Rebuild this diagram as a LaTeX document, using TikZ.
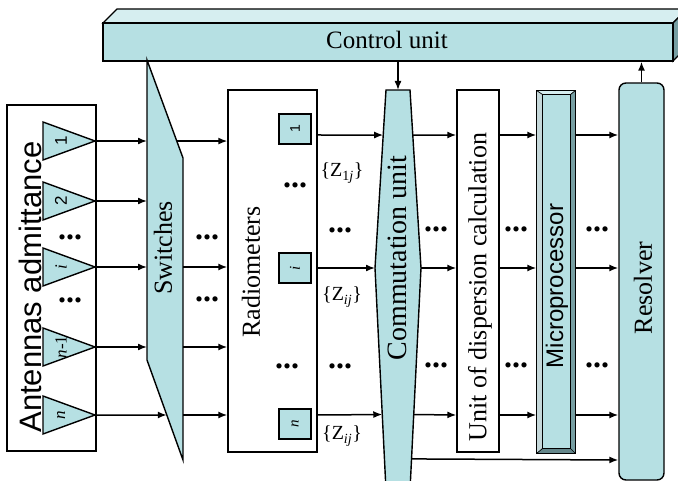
\documentclass[tikz,border=0pt]{standalone}
\usepackage{fontspec}
\setmainfont{Liberation Serif}
\newfontfamily\arial{Liberation Sans}
\usetikzlibrary{arrows.meta,calc}
\definecolor{cyanfill}{RGB}{182,224,227}
\definecolor{cyanlight}{RGB}{214,238,240}
\definecolor{cyandark}{RGB}{118,158,162}
\tikzset{
  blk/.style={draw, line width=1.4pt, inner sep=0pt},
  arr/.style={-{Latex[length=9pt,width=7pt]}, line width=1.5pt},
  vlab/.style={rotate=90, inner sep=0pt, font=\fontsize{26}{26}\selectfont},
  dotlab/.style={inner sep=0pt, font=\fontsize{32}{32}\selectfont\bfseries},
  zlab/.style={inner sep=0pt, font=\fontsize{20}{20}\selectfont},
}
\begin{document}
\begin{tikzpicture}[x=1pt,y=-1pt]
    \useasboundingbox (0,0) rectangle (678,481);
    % control unit
    \draw[blk, fill=cyanlight] (103,23) -- (117,9) -- (687,9) -- (673,23) -- cycle;
    \draw[blk, fill=cyandark] (673,23) -- (687,9) -- (687,47) -- (673,61) -- cycle;
    \node[blk, fill=cyanfill, minimum width=570pt, minimum height=38pt] (ctrl) at (388,42) {};
    \node[inner sep=0pt, font=\fontsize{25}{25}\selectfont] (ctrltxt) at (387,40) {Control unit};
    % antennas
    \node[blk, minimum width=89pt, minimum height=346pt] (ant) at (51.5,278) {};
    \node[rotate=90, inner sep=0pt, font=\arial\fontsize{31}{31}\selectfont] (anttxt) at (30,287) {Antennas admittance};
    \foreach \y/\lab/\nm in {141/{\arial 1}/1, 201/{\arial 2}/2, 267/\textit{i}/i, 347/\textit{n}-1/m, 415/\textit{n}/n} {
        \draw[blk, fill=cyanfill] (95,\y) -- (43,\y-19) -- (43,\y+19) -- cycle;
        \coordinate (a\nm) at (95,\y);
        \node[rotate=90, inner sep=0pt, font=\fontsize{17}{17}\selectfont] (al\nm) at (61,\y) {\lab};
    }
    % switches
    \coordinate (swA) at (147,60);
    \coordinate (swB) at (183,158);
    \coordinate (swC) at (147,360);
    \coordinate (swD) at (183,460);
    \draw[blk, fill=cyanfill] (swA) -- (swB) -- (swD) -- (swC) -- cycle;
    \node[vlab] (swtxt) at (163,248) {Switches};
    \coordinate (s1) at ($(swA)!0.827!(swB)$);
    \coordinate (sn) at ($(swC)!0.55!(swD)$);
    % radiometers
    \node[blk, minimum width=89pt, minimum height=362pt] (rad) at (272.5,271) {};
    \node[vlab] (radtxt) at (251,272) {Radiometers};
    \node[blk, fill=cyanfill, rotate=90, minimum width=30pt, minimum height=32pt, font=\arial\fontsize{14}{14}\selectfont] (r1) at (295,129) {1};
    \node[blk, fill=cyanfill, rotate=90, minimum width=30pt, minimum height=32pt, font=\fontsize{15}{15}\selectfont] (ri) at (295,268) {\textit{i}};
    \node[blk, fill=cyanfill, rotate=90, minimum width=30pt, minimum height=32pt, font=\fontsize{15}{15}\selectfont] (rn) at (295,424) {\textit{n}};
    % commutation unit
    \coordinate (cuTL) at (386,90);
    \coordinate (cuTR) at (410,90);
    \coordinate (cuML) at (375,268);
    \coordinate (cuMR) at (421,268);
    \coordinate (cuBL) at (386,490);
    \coordinate (cuBR) at (410,490);
    \coordinate (cuTop) at (398,90);
    \draw[blk, fill=cyanfill] (cuTL) -- (cuTR) -- (cuMR) -- (cuBR) -- (cuBL) -- (cuML) -- cycle;
    \node[vlab, font=\fontsize{28}{28}\selectfont] (cutxt) at (397,258) {Commutation unit};
    % unit of dispersion calculation
    \node[blk, fill=white, minimum width=42pt, minimum height=362pt] (disp) at (478,271) {};
    \node[vlab] (disptxt) at (480,287) {Unit of dispersion calculation};
    % microprocessor
    \node[blk, minimum width=38pt, minimum height=362pt] (micro) at (556,272) {};
    \fill[cyanlight] (micro.north west) -- (micro.north east) -- ($(micro.north east)+(-5,4)$) -- ($(micro.north west)+(6,4)$) -- cycle;
    \fill[cyanlight!80!gray] (micro.north west) -- ($(micro.north west)+(6,4)$) -- ($(micro.south west)+(6,-5)$) -- (micro.south west) -- cycle;
    \fill[cyandark] (micro.north east) -- (micro.south east) -- ($(micro.south east)+(-5,-5)$) -- ($(micro.north east)+(-5,4)$) -- cycle;
    \fill[cyandark!85!black] (micro.south west) -- (micro.south east) -- ($(micro.south east)+(-5,-5)$) -- ($(micro.south west)+(6,-5)$) -- cycle;
    \draw[line width=0.7pt, fill=cyanfill] ($(micro.north west)+(6,4)$) rectangle ($(micro.south east)+(-5,-5)$);
    \draw[line width=0.7pt] (micro.north west) -- ($(micro.north west)+(6,4)$) (micro.north east) -- ($(micro.north east)+(-5,4)$)
        (micro.south west) -- ($(micro.south west)+(6,-5)$) (micro.south east) -- ($(micro.south east)+(-5,-5)$);
    \draw[line width=1.4pt] (micro.north west) rectangle (micro.south east);
    \node[rotate=90, inner sep=0pt, font=\arial\fontsize{24}{24}\selectfont] (microtxt) at (557,286) {Microprocessor};
    % resolver
    \node[blk, fill=cyanfill, rounded corners=7pt, minimum width=45pt, minimum height=397pt] (res) at (641.5,281.5) {};
    \node[vlab] (restxt) at (643,288) {Resolver};
    % rows
    \coordinate (rowA) at (0,135);
    \coordinate (rowB) at (0,268);
    \coordinate (rowC) at (0,415);
    \coordinate (rowD) at (0,460);
    % arrows: antennas to switches
    \foreach \nm in {1,2,i,m} {
        \draw[arr] (a\nm) -- (a\nm -| swA);
    }
    \draw[arr] (an) -- (sn);
    % arrows: switches to radiometers
    \draw[arr] (s1) -- (s1 -| rad.west);
    \foreach \nm in {i,m,n} {
        \draw[arr] (a\nm -| swB) -- (a\nm -| rad.west);
    }
    % arrows: radiometers to commutation unit
    \draw[arr] (rowA -| rad.east) -- ($(cuTL)!0.253!(cuML)$);
    \draw[arr] (rowB -| rad.east) -- (cuML);
    \draw[arr] (rowC -| rad.east) -- ($(cuML)!0.66!(cuBL)$);
    % arrows: commutation unit to dispersion unit
    \draw[arr] ($(cuTR)!0.253!(cuMR)$) -- (rowA -| disp.west);
    \draw[arr] (cuMR) -- (rowB -| disp.west);
    \draw[arr] ($(cuMR)!0.66!(cuBR)$) -- (rowC -| disp.west);
    \draw[arr] ($(cuMR)!0.86!(cuBR)$) -- (rowD -| res.west);
    % arrows: dispersion unit to microprocessor to resolver
    \foreach \r in {rowA,rowB,rowC} {
        \draw[arr] (\r -| disp.east) -- (\r -| micro.west);
        \draw[arr] (\r -| micro.east) -- (\r -| res.west);
    }
    % control arrows
    \draw[arr] (ctrl.south -| cuTop) -- (cuTop);
    \draw[arr] (res.north) -- (res.north |- ctrl.south);
    % dots and labels
    \foreach \x/\y/\nm in {70/237/a, 70/300/b, 207/237/c, 207/299/d, 295/185/e, 287/366/f, 340/230/g, 340/366/h,
        436/229/k, 436/365/l, 516/229/m, 516/365/o, 597/229/p, 597/365/q} {
        \node[dotlab] (dt\nm) at (\x,\y) {...};
    }
    \node[zlab] (z1) at (342,173) {\{Z\textsubscript{1\textit{j}}\}};
    \node[zlab] (z2) at (342,297) {\{Z\textsubscript{\textit{ij}}\}};
    \node[zlab] (z3) at (342,436) {\{Z\textsubscript{\textit{ij}}\}};
\end{tikzpicture}
\end{document}
